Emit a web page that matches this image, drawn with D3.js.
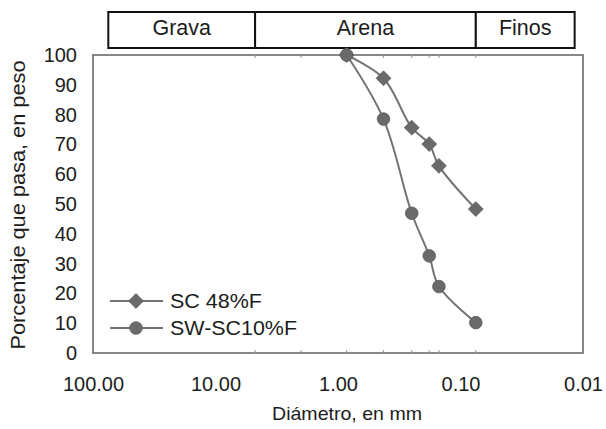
<!DOCTYPE html>
<html>
<head>
<meta charset="utf-8">
<script src="https://cdn.jsdelivr.net/npm/d3@7"></script>
<style>
  html, body { margin: 0; padding: 0; background: #fff; }
  svg { display: block; font-family: "Liberation Sans", Arial, sans-serif; }
</style>
</head>
<body>
<svg id="chart" width="606" height="429"></svg>
<script>
// Sieve openings (mm) and percent passing for each soil
const diameters = [0.85, 0.425, 0.25, 0.18, 0.15, 0.075];
const sc48 = [100, 92.2, 75.6, 70.1, 62.8, 48.3];
const swsc10 = [100, 78.5, 46.9, 32.6, 22.3, 10.2];
const seriesNames = ["SC 48%F", "SW-SC10%F"];

// Axis ticks
const xTicks = [100, 10, 1, 0.1, 0.01];
const yTicks = [0, 10, 20, 30, 40, 50, 60, 70, 80, 90, 100];

// Soil fraction bands (mm): Grava, Arena, Finos
const bandNames = ["Grava", "Arena", "Finos"];
const bandStarts = [75, 4.75, 0.075];
const bandEnds = [4.75, 0.075, 0.0117];

// Sieve sizes marked along the plot edges
const sieveMarks = [4.75, 2.0, 0.85, 0.425, 0.25, 0.18, 0.15, 0.075];

const svg = d3.select("#chart");
const plot = { left: 93, right: 583, top: 55, bottom: 353 };
const fontFamily = "'Liberation Sans', Arial, sans-serif";

const x = d3.scaleLog().domain([100, 0.01]).range([plot.left, plot.right]);
const y = d3.scaleLinear().domain([0, 100]).range([plot.bottom, plot.top]);

const textColor = "#1c1c1c";

// Plot frame
svg.append("rect")
  .attr("x", plot.left).attr("y", plot.top)
  .attr("width", plot.right - plot.left).attr("height", plot.bottom - plot.top)
  .attr("fill", "#fff").attr("stroke", "#6a6a6a").attr("stroke-width", 1.6);

// Faint sieve marks on top and bottom edges
svg.append("g").selectAll("line")
  .data(sieveMarks.flatMap(d => [{ d, y0: plot.bottom, y1: plot.bottom - 3 }, { d, y0: plot.top, y1: plot.top + 3 }]))
  .join("line")
  .attr("x1", m => x(m.d)).attr("x2", m => x(m.d))
  .attr("y1", m => m.y0).attr("y2", m => m.y1)
  .attr("stroke", "#a0a0a0").attr("stroke-width", 1.2);

// Fraction band boxes above the plot
const band = svg.append("g");
bandNames.forEach((name, i) => {
  const x0 = x(bandStarts[i]), x1 = x(bandEnds[i]);
  band.append("rect")
    .attr("x", x0).attr("y", 12).attr("width", x1 - x0).attr("height", 36)
    .attr("fill", "#fff").attr("stroke", "#111").attr("stroke-width", 2);
  band.append("text")
    .attr("x", (x0 + x1) / 2).attr("y", 35)
    .attr("text-anchor", "middle")
    .attr("font-size", 21.5).attr("fill", textColor)
    .text(name);
});

// Y axis labels
const yAxis = d3.axisLeft(y).tickValues(yTicks).tickSize(0).tickPadding(16).tickFormat(d3.format("d"));
svg.append("g").attr("transform", `translate(${plot.left},0)`).call(yAxis)
  .call(g => g.select(".domain").remove())
  .call(g => g.selectAll("text").attr("font-size", 20).attr("fill", textColor)
    .attr("font-family", fontFamily));

// X axis labels
const xAxis = d3.axisBottom(x).tickValues(xTicks).tickSize(0).tickPadding(24).tickFormat(d3.format(".2f"));
svg.append("g").attr("transform", `translate(0,${plot.bottom})`).call(xAxis)
  .call(g => g.select(".domain").remove())
  .call(g => g.selectAll("text").attr("font-size", 20).attr("fill", textColor)
    .attr("font-family", fontFamily));

// Axis titles
svg.append("text")
  .attr("transform", `translate(25,${(plot.top + plot.bottom) / 2 + 1}) rotate(-90)`)
  .attr("text-anchor", "middle").attr("font-size", 20).attr("fill", textColor)
  .attr("textLength", 289).attr("lengthAdjust", "spacingAndGlyphs")
  .text("Porcentaje que pasa, en peso");

svg.append("text")
  .attr("x", 347).attr("y", 420)
  .attr("text-anchor", "middle").attr("font-size", 19).attr("fill", textColor)
  .attr("textLength", 150).attr("lengthAdjust", "spacingAndGlyphs")
  .text("Diámetro, en mm");

// Curves
const lineColor = "#747474";
const markColor = "#6a6a6a";
const line = d3.line()
  .x((d, i) => x(diameters[i]))
  .y(d => y(d))
  .curve(d3.curveCatmullRom.alpha(0.5));

const diamond = d3.symbol().type(d3.symbolDiamond2).size(140);
const circle = d3.symbol().type(d3.symbolCircle).size(125);

const series = [
  { name: seriesNames[0], values: sc48, symbol: diamond, labelLength: 92 },
  { name: seriesNames[1], values: swsc10, symbol: circle, labelLength: 127 }
];

series.forEach(s => {
  svg.append("path").datum(s.values)
    .attr("d", line).attr("fill", "none")
    .attr("stroke", lineColor).attr("stroke-width", 2);
  svg.append("g").selectAll("path")
    .data(s.values)
    .join("path")
    .attr("transform", (d, i) => `translate(${x(diameters[i])},${y(d)})`)
    .attr("d", s.symbol)
    .attr("fill", markColor).attr("stroke", "#5a5a5a").attr("stroke-width", 0.8);
});

// Legend
const legend = svg.append("g");
series.forEach((s, i) => {
  const ly = 301 + i * 27;
  legend.append("line")
    .attr("x1", 110).attr("x2", 163).attr("y1", ly).attr("y2", ly)
    .attr("stroke", lineColor).attr("stroke-width", 2);
  legend.append("path")
    .attr("transform", `translate(136,${ly})`)
    .attr("d", s.symbol)
    .attr("fill", markColor).attr("stroke", "#5a5a5a").attr("stroke-width", 0.8);
  legend.append("text")
    .attr("x", 170).attr("y", ly + 7)
    .attr("font-size", 20.5).attr("fill", textColor)
    .attr("textLength", s.labelLength).attr("lengthAdjust", "spacingAndGlyphs")
    .text(s.name);
});
</script>
</body>
</html>
